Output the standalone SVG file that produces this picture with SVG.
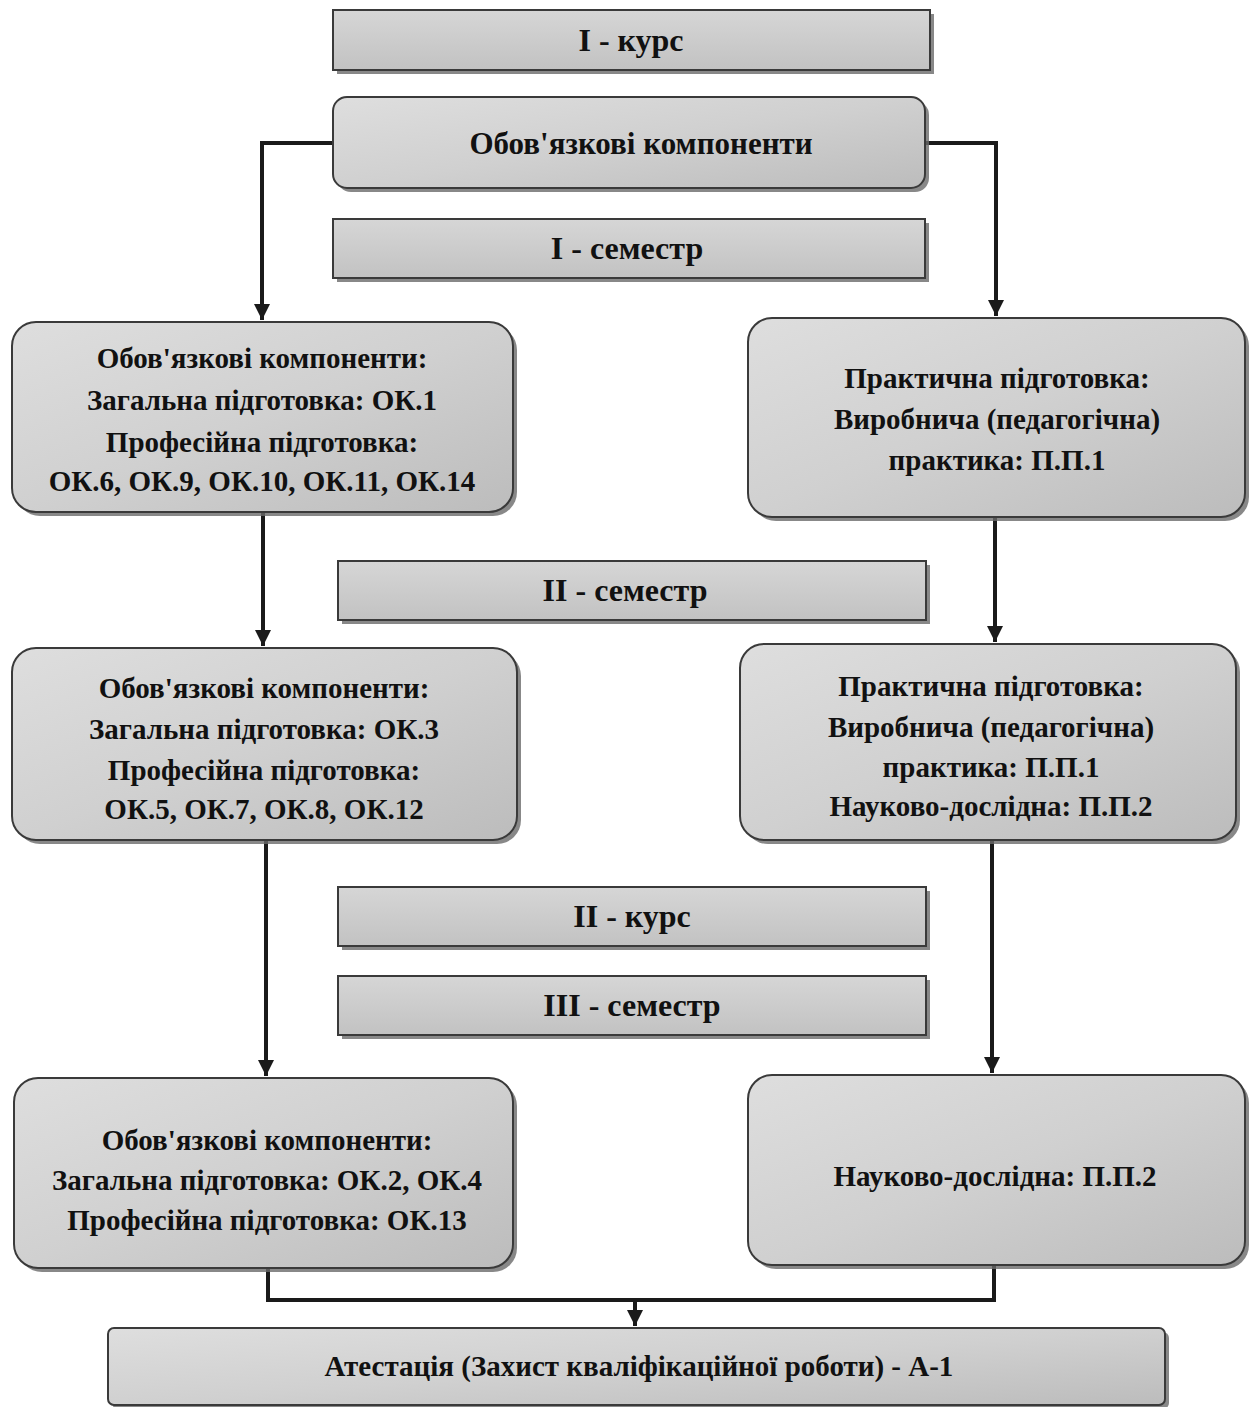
<svg xmlns="http://www.w3.org/2000/svg" width="1255" height="1407" viewBox="0 0 1255 1407">
<style>
.bar{fill:url(#g1);stroke:#3a3a3a;stroke-width:2}
.box{fill:url(#g2);stroke:#3a3a3a;stroke-width:2}
.sh{fill:#6a6a6a;opacity:0.8}
.h{font-family:"Liberation Serif","Times New Roman",serif;font-weight:bold;font-size:32px;fill:#111;text-anchor:middle}
.t{font-family:"Liberation Serif","Times New Roman",serif;font-weight:bold;font-size:29px;fill:#111;text-anchor:middle}
.c{fill:none;stroke:#1a1a1a;stroke-width:4}
</style>
<defs>
<linearGradient id="g1" x1="0" y1="0" x2="0" y2="1"><stop offset="0" stop-color="#d6d6d6"/><stop offset="1" stop-color="#c2c2c2"/></linearGradient>
<linearGradient id="g2" x1="0" y1="0" x2="1" y2="1"><stop offset="0" stop-color="#dedede"/><stop offset="0.5" stop-color="#d0d0d0"/><stop offset="1" stop-color="#bcbcbc"/></linearGradient>
<marker id="ar" viewBox="0 0 10 10" refX="10" refY="5" markerWidth="4" markerHeight="4" orient="auto" markerUnits="strokeWidth"><path d="M0,0 L10,5 L0,10 z" fill="#1a1a1a"/></marker>
</defs>
<rect width="1255" height="1407" fill="#ffffff"/>
<g id="connectors">
<path class="c" d="M333,143 H262 V320" marker-end="url(#ar)"/>
<path class="c" d="M925,143 H996 V316" marker-end="url(#ar)"/>
<path class="c" d="M263,512 V646" marker-end="url(#ar)"/>
<path class="c" d="M995,517 V642" marker-end="url(#ar)"/>
<path class="c" d="M266,840 V1076" marker-end="url(#ar)"/>
<path class="c" d="M992,840 V1073" marker-end="url(#ar)"/>
<path class="c" d="M268,1268 V1300 H994 V1265"/>
<path class="c" d="M635,1300 V1326" marker-end="url(#ar)"/>
</g>
<g id="kurs1"><rect class="sh" x="337" y="14" width="597" height="60"/><rect class="bar" x="333" y="10" width="597" height="60"/><text class="h" x="631" y="51">I - курс</text></g>
<g id="obov"><rect class="sh" x="337" y="101" width="592" height="91" rx="14"/><rect class="box" x="333" y="97" width="592" height="91" rx="14"/><text class="t" x="641" y="154" style="font-size:31px">Обов'язкові компоненти</text></g>
<g id="sem1"><rect class="sh" x="337" y="223" width="592" height="59"/><rect class="bar" x="333" y="219" width="592" height="59"/><text class="h" x="627" y="259">I - семестр</text></g>
<g id="left1"><rect class="sh" x="16" y="326" width="501" height="190" rx="24"/><rect class="box" x="12" y="322" width="501" height="190" rx="24"/>
<text class="t" x="262" y="368">Обов'язкові компоненти:</text>
<text class="t" x="262" y="410">Загальна підготовка: ОК.1</text>
<text class="t" x="262" y="452">Професійна підготовка:</text>
<text class="t" x="262" y="491">ОК.6, ОК.9, ОК.10, ОК.11, ОК.14</text></g>
<g id="right1"><rect class="sh" x="752" y="322" width="497" height="199" rx="24"/><rect class="box" x="748" y="318" width="497" height="199" rx="24"/>
<text class="t" x="997" y="388">Практична підготовка:</text>
<text class="t" x="997" y="429">Виробнича (педагогічна)</text>
<text class="t" x="997" y="470">практика: П.П.1</text></g>
<g id="sem2"><rect class="sh" x="342" y="565" width="588" height="59"/><rect class="bar" x="338" y="561" width="588" height="59"/><text class="h" x="625" y="601">II - семестр</text></g>
<g id="left2"><rect class="sh" x="16" y="652" width="505" height="192" rx="24"/><rect class="box" x="12" y="648" width="505" height="192" rx="24"/>
<text class="t" x="264" y="698">Обов'язкові компоненти:</text>
<text class="t" x="264" y="739">Загальна підготовка: ОК.3</text>
<text class="t" x="264" y="780">Професійна підготовка:</text>
<text class="t" x="264" y="819">ОК.5, ОК.7, ОК.8, ОК.12</text></g>
<g id="right2"><rect class="sh" x="744" y="648" width="496" height="196" rx="24"/><rect class="box" x="740" y="644" width="496" height="196" rx="24"/>
<text class="t" x="991" y="696">Практична підготовка:</text>
<text class="t" x="991" y="737">Виробнича (педагогічна)</text>
<text class="t" x="991" y="777">практика: П.П.1</text>
<text class="t" x="991" y="816">Науково-дослідна: П.П.2</text></g>
<g id="kurs2"><rect class="sh" x="342" y="891" width="588" height="59"/><rect class="bar" x="338" y="887" width="588" height="59"/><text class="h" x="632" y="927">II - курс</text></g>
<g id="sem3"><rect class="sh" x="342" y="980" width="588" height="59"/><rect class="bar" x="338" y="976" width="588" height="59"/><text class="h" x="632" y="1016">III - семестр</text></g>
<g id="left3"><rect class="sh" x="18" y="1082" width="499" height="190" rx="24"/><rect class="box" x="14" y="1078" width="499" height="190" rx="24"/>
<text class="t" x="267" y="1150">Обов'язкові компоненти:</text>
<text class="t" x="267" y="1190">Загальна підготовка: ОК.2, ОК.4</text>
<text class="t" x="267" y="1230">Професійна підготовка: ОК.13</text></g>
<g id="right3"><rect class="sh" x="752" y="1079" width="497" height="190" rx="24"/><rect class="box" x="748" y="1075" width="497" height="190" rx="24"/>
<text class="t" x="995" y="1186">Науково-дослідна: П.П.2</text></g>
<g id="atest"><rect class="sh" x="112" y="1332" width="1057" height="77" rx="6"/><rect class="box" x="108" y="1328" width="1057" height="77" rx="6"/>
<text class="t" x="639" y="1376">Атестація (Захист кваліфікаційної роботи) - А-1</text></g>
</svg>
